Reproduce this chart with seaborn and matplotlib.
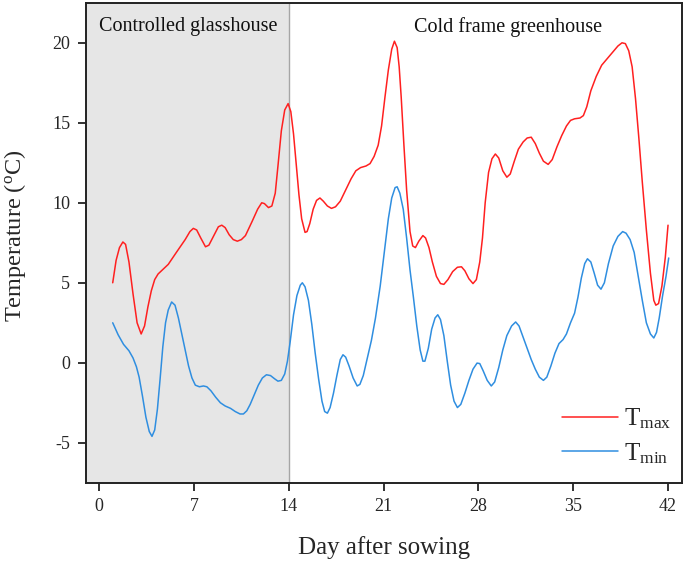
import matplotlib
matplotlib.use("Agg")
import matplotlib.pyplot as plt
import seaborn as sns

# ---- data ----
tmax_day = [1.0, 1.25, 1.5, 1.75, 1.95, 2.2, 2.5, 2.8, 3.1, 3.35, 3.6, 3.85, 4.1, 4.35, 4.6,
            5.1, 5.7, 6.35, 6.7, 6.95, 7.2, 7.5, 7.85, 8.1, 8.5, 8.8, 9.05, 9.3, 9.6, 9.9,
            10.2, 10.5, 10.8, 11.3, 11.7, 12.0, 12.2, 12.5, 12.75, 13.0, 13.2, 13.45, 13.7,
            13.95, 14.15, 14.35, 14.55, 14.75, 14.95, 15.2, 15.35, 15.55, 15.8, 16.05, 16.3,
            16.55, 16.85, 17.15, 17.45, 17.8, 18.2, 18.6, 18.95, 19.3, 19.7, 20.0, 20.3,
            20.6, 20.85, 21.1, 21.35, 21.6, 21.8, 22.0, 22.15, 22.3, 22.5, 22.7, 22.95,
            23.15, 23.35, 23.6, 23.9, 24.1, 24.35, 24.6, 24.9, 25.2, 25.45, 25.75, 26.1,
            26.45, 26.75, 27.0, 27.3, 27.6, 27.85, 28.1, 28.3, 28.5, 28.75, 29.0, 29.25,
            29.5, 29.8, 30.1, 30.35, 30.65, 30.95, 31.3, 31.6, 31.9, 32.2, 32.5, 32.8,
            33.15, 33.45, 33.8, 34.15, 34.5, 34.8, 35.1, 35.5, 35.75, 36.0, 36.3, 36.7,
            37.1, 37.5, 37.9, 38.3, 38.6, 38.85, 39.1, 39.35, 39.6, 39.85, 40.1, 40.4,
            40.7, 40.95, 41.1, 41.3, 41.55, 41.8, 42.0]
tmax = [5.0, 6.4, 7.2, 7.55, 7.4, 6.3, 4.3, 2.5, 1.8, 2.3, 3.5, 4.5, 5.2, 5.55, 5.75,
        6.15, 6.9, 7.7, 8.2, 8.4, 8.3, 7.8, 7.25, 7.35, 8.0, 8.5, 8.6, 8.45, 8.0, 7.7,
        7.6, 7.7, 7.95, 8.85, 9.6, 10.0, 9.95, 9.7, 9.8, 10.6, 12.3, 14.5, 15.8,
        16.2, 15.7, 14.3, 12.4, 10.5, 9.0, 8.15, 8.2, 8.7, 9.6, 10.15, 10.3,
        10.1, 9.8, 9.65, 9.75, 10.1, 10.8, 11.5, 12.0, 12.2, 12.3, 12.45, 12.9,
        13.6, 14.8, 16.6, 18.3, 19.6, 20.1, 19.7, 18.5, 16.6, 13.6, 10.8, 8.2,
        7.3, 7.2, 7.6, 7.95, 7.8, 7.2, 6.3, 5.4, 4.95, 4.9, 5.2, 5.7,
        5.97, 6.0, 5.75, 5.25, 4.95, 5.2, 6.3, 7.8, 10.0, 11.9, 12.75, 13.05,
        12.8, 12.0, 11.6, 11.8, 12.6, 13.35, 13.8, 14.05, 14.1, 13.7, 13.1, 12.6,
        12.4, 12.7, 13.5, 14.2, 14.8, 15.15, 15.25, 15.3, 15.45, 16.0, 17.0, 17.9,
        18.6, 19.0, 19.4, 19.8, 20.0, 19.95, 19.5, 18.5, 16.5, 14.0, 11.3, 8.3,
        5.6, 3.9, 3.6, 3.7, 4.8, 6.6, 8.6]

tmin_day = [1.0, 1.4, 1.8, 2.2, 2.5, 2.75, 2.95, 3.2, 3.45, 3.7, 3.9, 4.1, 4.3, 4.5, 4.7,
            4.9, 5.1, 5.35, 5.6, 5.85, 6.1, 6.35, 6.6, 6.85, 7.1, 7.4, 7.7, 7.95, 8.25,
            8.6, 8.95, 9.3, 9.7, 10.05, 10.4, 10.65, 10.9, 11.15, 11.45, 11.75, 12.05,
            12.35, 12.65, 12.95, 13.2, 13.45, 13.7, 13.9, 14.1, 14.35, 14.6, 14.85, 15.0,
            15.2, 15.45, 15.7, 15.95, 16.2, 16.45, 16.65, 16.85, 17.05, 17.3, 17.55, 17.8,
            18.0, 18.2, 18.45, 18.75, 19.05, 19.25, 19.5, 19.8, 20.1, 20.4, 20.75, 21.05,
            21.35, 21.6, 21.85, 22.0, 22.2, 22.45, 22.7, 22.95, 23.2, 23.45, 23.7, 23.9,
            24.05, 24.3, 24.55, 24.8, 25.0, 25.2, 25.45, 25.7, 25.95, 26.2, 26.45, 26.7,
            27.0, 27.3, 27.6, 27.9, 28.1, 28.35, 28.65, 28.95, 29.2, 29.5, 29.8, 30.1,
            30.45, 30.75, 31.0, 31.3, 31.6, 31.9, 32.2, 32.5, 32.8, 33.05, 33.35, 33.65,
            33.95, 34.25, 34.5, 34.8, 35.1, 35.35, 35.6, 35.85, 36.05, 36.3, 36.55, 36.8,
            37.05, 37.3, 37.6, 37.95, 38.3, 38.65, 38.9, 39.2, 39.5, 39.8, 40.1, 40.4,
            40.7, 40.95, 41.15, 41.35, 41.6, 41.85, 42.05]
tmin = [2.5, 1.75, 1.15, 0.75, 0.3, -0.25, -0.9, -2.1, -3.4, -4.3, -4.6, -4.2, -2.9, -1.0, 1.0,
        2.5, 3.3, 3.8, 3.6, 2.8, 1.8, 0.8, -0.2, -0.95, -1.4, -1.5, -1.45, -1.5, -1.75,
        -2.15, -2.5, -2.7, -2.85, -3.05, -3.2, -3.2, -3.0, -2.6, -2.0, -1.4, -0.95,
        -0.75, -0.8, -1.0, -1.15, -1.1, -0.7, 0.1, 1.3, 3.0, 4.2, 4.85, 5.0,
        4.75, 3.9, 2.4, 0.6, -1.0, -2.4, -3.05, -3.15, -2.8, -1.9, -0.8, 0.2,
        0.5, 0.35, -0.2, -0.95, -1.45, -1.35, -0.8, 0.3, 1.4, 2.8, 4.8, 6.9,
        9.0, 10.3, 10.95, 11.0, 10.6, 9.6, 7.8, 5.8, 4.1, 2.3, 0.8, 0.1,
        0.1, 0.9, 2.1, 2.8, 3.0, 2.7, 1.7, 0.1, -1.4, -2.4, -2.8, -2.6,
        -1.9, -1.1, -0.4, -0.02, -0.05, -0.5, -1.1, -1.45, -1.2, -0.3, 0.8, 1.7,
        2.3, 2.55, 2.3, 1.6, 0.9, 0.2, -0.4, -0.9, -1.1, -0.9, -0.2, 0.6,
        1.2, 1.45, 1.8, 2.5, 3.1, 4.1, 5.3, 6.2, 6.5, 6.3, 5.6, 4.85,
        4.6, 5.0, 6.2, 7.3, 7.9, 8.2, 8.1, 7.7, 6.9, 5.4, 3.9, 2.5,
        1.8, 1.55, 1.9, 2.8, 4.2, 5.4, 6.55]

x_ticks = [0, 7, 14, 21, 28, 35, 42]
y_ticks = [-5, 0, 5, 10, 15, 20]
region_labels = ["Controlled glasshouse", "Cold frame greenhouse"]
series_labels = [r"T$_{\mathrm{max}}$", r"T$_{\mathrm{min}}$"]

# ---- style ----
sns.set_style("ticks")
plt.rcParams["font.family"] = ["Liberation Serif", "DejaVu Serif"]
plt.rcParams["mathtext.fontset"] = "custom"
plt.rcParams["mathtext.rm"] = "Liberation Serif"
plt.rcParams["mathtext.it"] = "Liberation Serif:italic"
plt.rcParams["axes.unicode_minus"] = False

fig = plt.figure(figsize=(6.85, 5.62), dpi=100)
ax = fig.add_axes([0.125, 0.141, 0.870, 0.854])

ax.axvspan(-1, 14, color="#e6e6e6", zorder=0, lw=0)
ax.axvline(14, color="#a6a6a6", lw=1.0, zorder=1)

red = "#ff2020"
blue = "#2f8ee0"
sns.lineplot(x=tmax_day, y=tmax, ax=ax, color=red, lw=1.1, label=series_labels[0], sort=False)
sns.lineplot(x=tmin_day, y=tmin, ax=ax, color=blue, lw=1.1, label=series_labels[1], sort=False)

ax.set_xlim(-1, 43)
ax.set_ylim(-7.5, 22.5)
ax.set_xticks(x_ticks)
ax.set_yticks(y_ticks)
ax.tick_params(axis="both", direction="out", length=6, width=1.3, labelsize=13, pad=5, color="#222222")
for s in ax.spines.values():
    s.set_linewidth(1.4)
    s.set_color("#222222")

ax.set_xlabel("Day after sowing", fontsize=18, labelpad=15)
ax.set_ylabel(r"Temperature ($^{\mathrm{o}}$C)", fontsize=17.5)
ax.yaxis.set_label_coords(-0.097, 0.515)

ax.text(6.6, 21.0, region_labels[0], ha="center", va="center", fontsize=14.5, color="#111111")
ax.text(30.2, 21.0, region_labels[1], ha="center", va="center", fontsize=14.5, color="#111111")

ax.legend(loc="lower right", bbox_to_anchor=(1.0, 0.015), frameon=False, fontsize=18,
          handlelength=2.25, handletextpad=0.25, labelspacing=0.4, borderaxespad=0.0)

fig.savefig("out.png", dpi=100)
